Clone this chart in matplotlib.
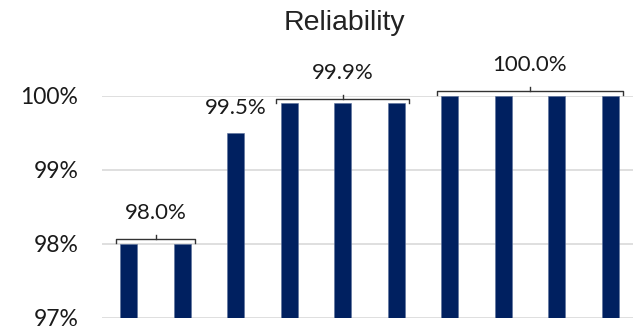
import matplotlib
matplotlib.use('Agg')
import matplotlib.pyplot as plt
import numpy as np

# data
values = [98.0, 98.0, 99.5, 99.9, 99.9, 99.9, 100.0, 100.0, 100.0, 100.0]
# groups: (first bar, last bar, label)
groups = [(0, 1, '98.0%'), (2, 2, '99.5%'), (3, 5, '99.9%'), (6, 9, '100.0%')]
yticks = [97, 98, 99, 100]
ytick_labels = ['97%', '98%', '99%', '100%']

navy = '#002060'
txt = '#1a1a1a'
fig = plt.figure(figsize=(6.33, 3.28), dpi=100)
ax = fig.add_axes([102 / 633, 10 / 328, 535 / 633, 222 / 328])

x = np.arange(len(values))
ax.bar(x, values, width=0.32, color=navy, edgecolor='#5a6f9a', linewidth=0.4, zorder=3)

ax.set_xlim(-0.5, len(values) - 0.5)
ax.set_ylim(97, 100)
ax.set_yticks(yticks)
ax.set_yticklabels(ytick_labels, family='Lato', fontsize=16.5, color=txt)
ax.set_xticks([])
ax.tick_params(axis='y', length=0, pad=17)
ax.grid(axis='y', color='#d9d9d9', linewidth=1.2, zorder=0)
for s in ax.spines.values():
    s.set_visible(False)

# brackets and labels
for a, b, lab in groups:
    top = max(values[a:b + 1])
    if a == b:
        ax.text(a, top + 0.34, lab, ha='center', va='center', family='Lato',
                fontsize=16, color=txt, clip_on=False)
        continue
    y0 = top + 0.065
    xl, xr = a - 0.24, b + 0.24
    ax.plot([xl, xl, xr, xr], [top + 0.01, y0, y0, top + 0.01], color='#333333',
            lw=1.0, clip_on=False, zorder=4)
    xm = (a + b) / 2
    ax.plot([xm, xm], [y0, y0 + 0.05], color='#333333', lw=1.0, clip_on=False, zorder=4)
    ax.text(xm, y0 + 0.35, lab, ha='center', va='center', family='Lato',
            fontsize=16, color=txt, clip_on=False)

fig.text(344 / 633, 1 - 23 / 328, 'Reliability', ha='center', va='center',
         family='Liberation Sans', fontsize=20.5, color='#222222')

fig.savefig('out.png', dpi=100)
